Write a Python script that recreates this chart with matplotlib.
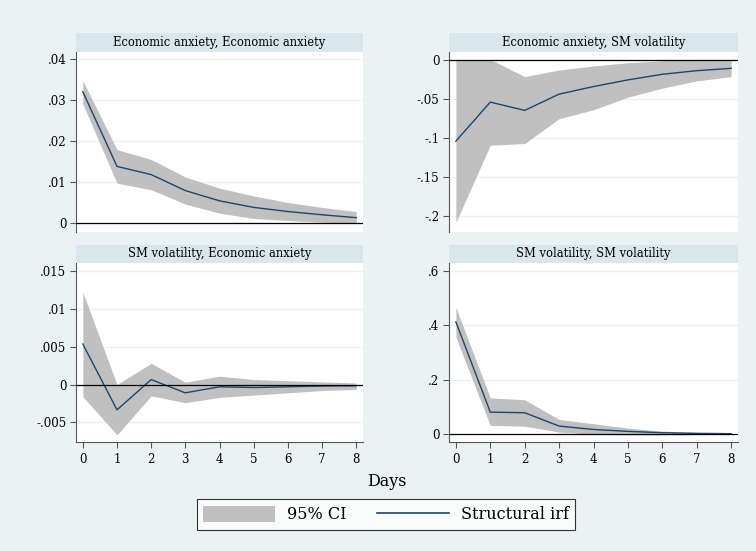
import matplotlib
matplotlib.use("Agg")
import matplotlib.pyplot as plt
from matplotlib.patches import Rectangle, Patch
from matplotlib.lines import Line2D
from matplotlib.ticker import FuncFormatter

days = [0, 1, 2, 3, 4, 5, 6, 7, 8]

titles = ["Economic anxiety, Economic anxiety",
          "Economic anxiety, SM volatility",
          "SM volatility, Economic anxiety",
          "SM volatility, SM volatility"]

irf_ea_ea = [0.0321, 0.0139, 0.0119, 0.0080, 0.0055, 0.0039, 0.0029, 0.0021, 0.0014]
lo_ea_ea = [0.0291, 0.0098, 0.0082, 0.0047, 0.0025, 0.0012, 0.0007, 0.0003, 0.0000]
hi_ea_ea = [0.0348, 0.0180, 0.0156, 0.0113, 0.0086, 0.0067, 0.0051, 0.0039, 0.0029]

irf_ea_sm = [-0.1038, -0.0538, -0.0644, -0.0436, -0.0339, -0.0254, -0.0182, -0.0136, -0.0106]
lo_ea_sm = [-0.2076, -0.1090, -0.1068, -0.0750, -0.0636, -0.0475, -0.0360, -0.0267, -0.0212]
hi_ea_sm = [0.0000, 0.0008, -0.0212, -0.0127, -0.0076, -0.0034, -0.0008, 0.0008, 0.0008]

irf_sm_ea = [0.00535, -0.00335, 0.00065, -0.0011, -0.0003, -0.0004, -0.0003, -0.0002, -0.00017]
lo_sm_ea = [-0.0016, -0.00665, -0.0015, -0.0024, -0.0017, -0.0014, -0.0011, -0.0008, -0.00065]
hi_sm_ea = [0.0122, 0.0000, 0.0028, 0.0003, 0.0011, 0.00065, 0.0005, 0.00035, 0.0002]

irf_sm_sm = [0.413, 0.0817, 0.0793, 0.0305, 0.018, 0.011, 0.006, 0.0037, 0.0024]
lo_sm_sm = [0.356, 0.033, 0.030, 0.0085, 0.0, -0.002, -0.002, -0.001, 0.0]
hi_sm_sm = [0.466, 0.134, 0.127, 0.055, 0.039, 0.023, 0.012, 0.007, 0.004]

yticks = [[0, 0.01, 0.02, 0.03, 0.04],
          [-0.2, -0.15, -0.1, -0.05, 0],
          [-0.005, 0, 0.005, 0.01, 0.015],
          [0, 0.2, 0.4, 0.6]]
ylims = [(-0.0021, 0.0418), (-0.220, 0.0103), (-0.0076, 0.01606), (-0.028, 0.629)]

series = [(irf_ea_ea, lo_ea_ea, hi_ea_ea),
          (irf_ea_sm, lo_ea_sm, hi_ea_sm),
          (irf_sm_ea, lo_sm_ea, hi_sm_ea),
          (irf_sm_sm, lo_sm_sm, hi_sm_sm)]

BG = "#EAF2F3"
STRIP = "#D9E6EB"
FILL = "#C0C0C0"
LINE = "#1A476F"
FONT = "DejaVu Serif"

W, H = 756, 551
fig = plt.figure(figsize=(W / 100, H / 100), dpi=100, facecolor=BG)


def fmt(v, pos):
    if abs(v) < 1e-12:
        return "0"
    s = ("%g" % v)
    s = s.replace("0.", ".")
    return s


# pixel boxes: left, right, strip_top, plot_top, plot_bottom
boxes = [(76, 363, 33, 52, 232),
         (449, 738, 33, 52, 232),
         (76, 363, 245, 263, 442),
         (449, 738, 245, 263, 442)]

for i, (l, r, st, pt, pb) in enumerate(boxes):
    ax = fig.add_axes([l / W, 1 - pb / H, (r - l) / W, (pb - pt) / H])
    ax.set_facecolor("white")
    irf, lo, hi = series[i]
    ax.fill_between(days, lo, hi, color=FILL, linewidth=0, zorder=2)
    ax.plot(days, irf, color=LINE, linewidth=1.0, zorder=3)
    ax.axhline(0, color="black", linewidth=0.9, zorder=4)
    ax.set_xlim(-0.2, 8.2)
    ax.set_ylim(*ylims[i])
    ax.set_yticks(yticks[i])
    ax.yaxis.set_major_formatter(FuncFormatter(fmt))
    for yv in yticks[i]:
        ax.axhline(yv, color=BG, linewidth=1.0, zorder=1)
    for s in ["top", "right"]:
        ax.spines[s].set_visible(False)
    ax.spines["left"].set_color("#555555")
    ax.spines["left"].set_linewidth(0.8)
    ax.tick_params(axis="y", direction="out", length=4, width=0.8, color="#555555",
                   labelsize=8.5, pad=3)
    for lab in ax.get_yticklabels():
        lab.set_family(FONT)
    if i >= 2:
        ax.set_xticks(days)
        ax.spines["bottom"].set_color("#555555")
        ax.spines["bottom"].set_linewidth(0.8)
        ax.tick_params(axis="x", direction="out", length=4, width=0.8, color="#555555",
                       labelsize=8.5, pad=4)
        for lab in ax.get_xticklabels():
            lab.set_family(FONT)
    else:
        ax.spines["bottom"].set_visible(False)
        ax.set_xticks([])
    # title strip
    fig.patches.append(Rectangle((l / W, 1 - pt / H), (r - l) / W, (pt - st) / H,
                                 transform=fig.transFigure, facecolor=STRIP,
                                 edgecolor="none", zorder=0))
    fig.text((l + r) / 2 / W, 1 - (st + pt) / 2 / H, titles[i], ha="center", va="center",
             fontsize=8.3, family=FONT)

fig.text(387 / W, 1 - 481 / H, "Days", ha="center", va="center", fontsize=11.5, family=FONT)

handles = [Patch(facecolor=FILL, edgecolor="none"),
           Line2D([], [], color=LINE, linewidth=1.2)]
leg = fig.legend(handles, ["95% CI", "Structural irf"], ncol=2,
                 loc="center", bbox_to_anchor=(386 / W, 1 - 514.5 / H),
                 frameon=True, fancybox=False, edgecolor="black", facecolor="white",
                 prop={"family": FONT, "size": 11.5}, handlelength=4.5, handleheight=1.2,
                 columnspacing=1.9, handletextpad=0.75, borderpad=0.42, borderaxespad=0)
leg.get_frame().set_linewidth(0.8)

fig.savefig("out.png", dpi=100, facecolor=BG)
